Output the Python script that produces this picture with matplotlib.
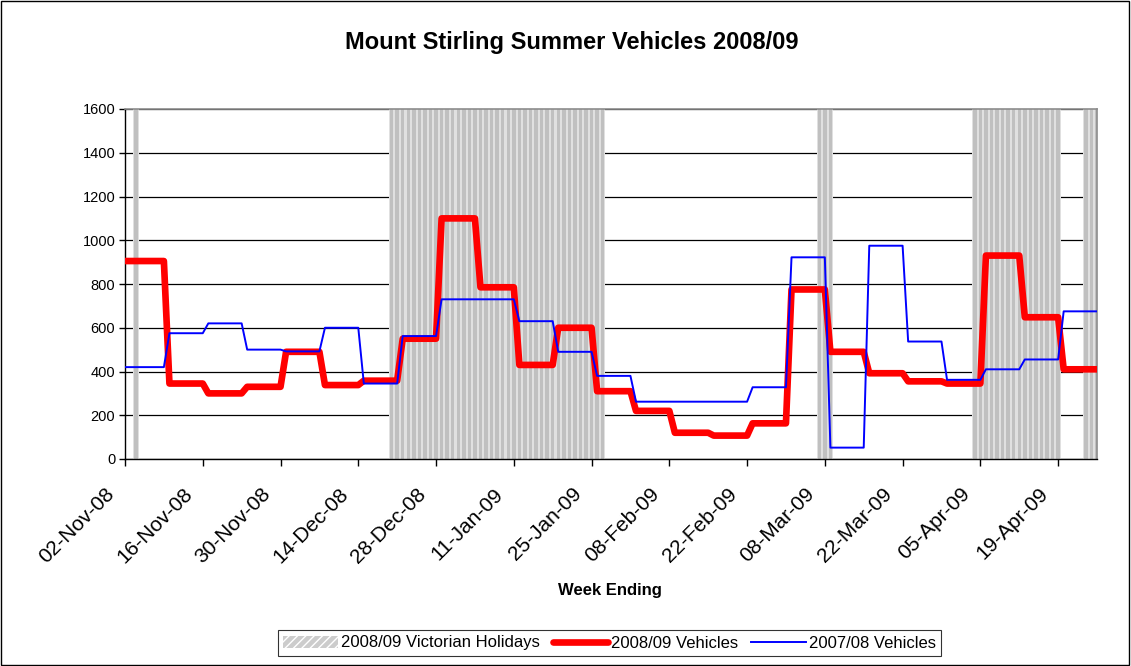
import numpy as np
import pandas as pd
import matplotlib
matplotlib.use("Agg")
import matplotlib.pyplot as plt
import matplotlib.dates as mdates
import matplotlib.transforms as mtransforms
from matplotlib.patches import Patch, Rectangle
from matplotlib.lines import Line2D

plt.rcParams['font.family'] = ['Liberation Sans', 'DejaVu Sans']

# ---------------- data ----------------
title = "Mount Stirling Summer Vehicles 2008/09"
x_label = "Week Ending"
start_date = "2008-11-02"
end_date = "2009-04-26"

week_ending = pd.date_range("2008-11-09", "2009-04-26", freq="7D")

vehicles_0809 = [905, 345, 300, 330, 490, 338, 358, 550, 1100, 785, 430, 600, 310,
                 220, 120, 107, 163, 775, 490, 392, 355, 345, 930, 648, 410]
vehicles_0708 = [420, 575, 620, 500, 492, 600, 345, 562, 730, 730, 630, 490, 380,
                 262, 262, 262, 328, 922, 52, 975, 537, 362, 410, 455, 675]

holiday_periods = [("2008-11-04", "2008-11-04"),
                   ("2008-12-20", "2009-01-27"),
                   ("2009-03-07", "2009-03-09"),
                   ("2009-04-04", "2009-04-19"),
                   ("2009-04-24", "2009-04-26")]
holiday_value = 1600

y_ticks = [0, 200, 400, 600, 800, 1000, 1200, 1400, 1600]
legend_labels = ["2008/09 Victorian Holidays", "2008/09 Vehicles", "2007/08 Vehicles"]

# ---------------- build daily series ----------------
days = pd.date_range(start_date, end_date, freq="D")
idx = np.searchsorted(week_ending.values, days.values)
daily_0809 = np.asarray(vehicles_0809)[idx]
daily_0708 = np.asarray(vehicles_0708)[idx]

holiday_days = pd.DatetimeIndex(np.concatenate(
    [pd.date_range(a, b, freq="D").values for a, b in holiday_periods]))

# ---------------- figure ----------------
fig = plt.figure(figsize=(11.31, 6.66), dpi=100)
ax = fig.add_axes([125 / 1131, 1 - 459 / 666, (1097 - 125) / 1131, (459 - 109) / 666])

# holiday bars
ax.bar(holiday_days, [holiday_value] * len(holiday_days), width=1.0,
       color="#e0e0e0", linewidth=0, zorder=2)
ax.bar(holiday_days, [holiday_value] * len(holiday_days), width=0.62,
       color="#c0c0c0", linewidth=0, zorder=2.1)

# lines
ax.plot(days, daily_0809, color="#ff0000", linewidth=4.8, solid_joinstyle="round",
        solid_capstyle="round", zorder=4)
ax.plot(days, daily_0708, color="#0000ff", linewidth=1.4, zorder=5)

ax.set_xlim(pd.Timestamp(start_date), pd.Timestamp(end_date))
ax.set_ylim(0, 1600)
ax.set_yticks(y_ticks)
ax.yaxis.grid(True, color="black", linewidth=0.9, zorder=1)
ax.set_axisbelow(True)

tick_dates = pd.date_range(start_date, "2009-04-19", freq="14D")
ax.set_xticks(tick_dates)
ax.xaxis.set_major_formatter(mdates.DateFormatter("%d-%b-%y"))
ax.tick_params(axis="x", direction="out", length=5, width=1, labelsize=15, pad=1)
ax.tick_params(axis="y", direction="out", length=4, width=1, labelsize=10.5, pad=3)

offset = mtransforms.ScaledTranslation(-0.20, -0.17, fig.dpi_scale_trans)
for tick in ax.xaxis.get_major_ticks():
    lbl = tick.label1
    lbl.set_rotation(45)
    lbl.set_ha("right")
    lbl.set_va("top")
    lbl.set_rotation_mode("anchor")
    lbl.set_transform(lbl.get_transform() + offset)

for side in ["left", "bottom"]:
    ax.spines[side].set_color("black")
    ax.spines[side].set_linewidth(1.0)
for side in ["top", "right"]:
    ax.spines[side].set_color("#8c8c8c")
    ax.spines[side].set_linewidth(1.2)

fig.text(609.5 / 1131, 1 - 590 / 666, x_label, fontsize=12, fontweight="bold",
         ha="center", va="center")
fig.text(572 / 1131, 1 - 42 / 666, title, fontsize=17, fontweight="bold",
         ha="center", va="center")

handles = [Patch(facecolor="#cccccc", edgecolor="white", hatch="////", linewidth=0),
           Line2D([], [], color="#ff0000", linewidth=4.8, solid_capstyle="round"),
           Line2D([], [], color="#0000ff", linewidth=1.4)]
leg = fig.legend(handles, legend_labels, loc="center", ncol=3,
                 bbox_to_anchor=(609.5 / 1131, 1 - 643 / 666), fontsize=12,
                 frameon=True, fancybox=False, edgecolor="black", handlelength=3.3,
                 handletextpad=0.15, columnspacing=0.8, borderpad=0.35)
leg.get_frame().set_linewidth(0.8)

fig.patches.append(Rectangle((0.001, 0.001), 0.997, 0.997, transform=fig.transFigure,
                             fill=False, edgecolor="black", linewidth=1.0))

fig.savefig("out.png", dpi=100)
